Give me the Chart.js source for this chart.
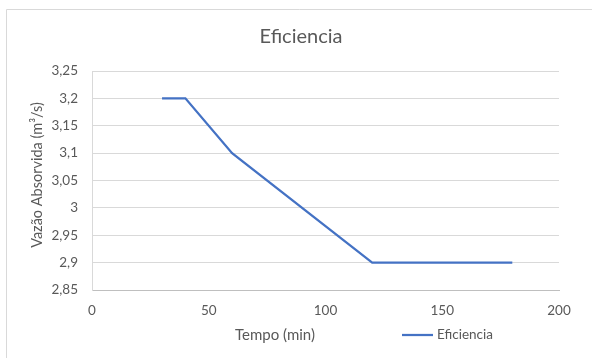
<!DOCTYPE html>
<html>
<head>
<meta charset="utf-8">
<script src="https://cdn.jsdelivr.net/npm/chart.js@4.4.1/dist/chart.umd.min.js"></script>
<style>
html,body{margin:0;padding:0;background:#fff;}
#wrap{width:592px;height:358px;position:relative;}
</style>
</head>
<body>
<div id="wrap"><canvas id="c" width="592" height="358"></canvas></div>
<script>
const chartTitle = "Eficiencia";
const seriesName = "Eficiencia";
const xTitle = "Tempo (min)";
const yTitle = "Vazão Absorvida (m³/s)";
const timeMin = [30, 40, 60, 120, 180];
const flowValues = [3.2, 3.2, 3.1, 2.9, 2.9];
const xTicks = [0, 50, 100, 150, 200];
const yTicks = [2.85, 2.9, 2.95, 3.0, 3.05, 3.1, 3.15, 3.2, 3.25];

const FONT = "Lato, 'Open Sans', sans-serif";
const TXT = "#595959";
const LINE = "#4472C4";

const textPlugin = {
  id: 'texts',
  afterDraw(chart) {
    const ctx = chart.ctx;
    ctx.save();
    ctx.strokeStyle = '#d9d9d9';
    ctx.lineWidth = 1;
    ctx.beginPath();
    ctx.moveTo(6.5, 358);
    ctx.lineTo(6.5, 9.5);
    ctx.lineTo(592, 9.5);
    ctx.stroke();
    ctx.fillStyle = TXT;
    ctx.textAlign = 'center';
    ctx.textBaseline = 'middle';
    ctx.font = "20px " + FONT;
    ctx.fillText(chartTitle, 301, 37);
    ctx.font = "15px " + FONT;
    ctx.fillText(xTitle, 275, 335);
    ctx.save();
    ctx.font = "14.5px " + FONT;
    ctx.translate(37, 175);
    ctx.rotate(-Math.PI / 2);
    ctx.fillText(yTitle, 0, 0);
    ctx.restore();
    const ds = chart.data.datasets[0];
    ctx.strokeStyle = ds.borderColor;
    ctx.lineWidth = ds.borderWidth;
    ctx.beginPath();
    ctx.moveTo(402, 335);
    ctx.lineTo(433, 335);
    ctx.stroke();
    ctx.textAlign = 'left';
    ctx.font = "13.5px " + FONT;
    ctx.fillStyle = TXT;
    ctx.fillText(ds.label, 437, 335);
    ctx.restore();
  }
};

new Chart(document.getElementById('c'), {
  type: 'scatter',
  data: {
    datasets: [{
      label: seriesName,
      data: timeMin.map((t, i) => ({x: t, y: flowValues[i]})),
      showLine: true,
      borderColor: LINE,
      backgroundColor: LINE,
      borderWidth: 2.25,
      pointRadius: 0,
      tension: 0
    }]
  },
  options: {
    responsive: false,
    animation: false,
    devicePixelRatio: 1,
    layout: { padding: { left: 0, top: 71, right: 33, bottom: 0 } },
    plugins: {
      legend: { display: false },
      title: { display: false },
      tooltip: { enabled: false }
    },
    scales: {
      x: {
        type: 'linear',
        min: 0, max: 200,
        afterBuildTicks(s) { s.ticks = xTicks.map(v => ({value: v})); },
        afterFit(s) { s.height = 358 - 290; },
        grid: { display: false, drawTicks: false },
        border: { display: true, color: '#bfbfbf', width: 1 },
        ticks: {
          padding: 13,
          color: TXT,
          font: { family: FONT, size: 13.5 },
          callback: v => String(v)
        }
      },
      y: {
        type: 'linear',
        min: 2.85, max: 3.25,
        afterBuildTicks(s) { s.ticks = yTicks.map(v => ({value: v})); },
        afterFit(s) { s.width = 92; },
        grid: { color: '#d9d9d9', lineWidth: 1, drawTicks: false },
        border: { display: true, color: '#d9d9d9', width: 1 },
        ticks: {
          padding: 14,
          color: TXT,
          font: { family: FONT, size: 13.5 },
          callback: v => String(Number(v.toFixed(2))).replace('.', ',')
        }
      }
    }
  },
  plugins: [textPlugin]
});
</script>
</body>
</html>
